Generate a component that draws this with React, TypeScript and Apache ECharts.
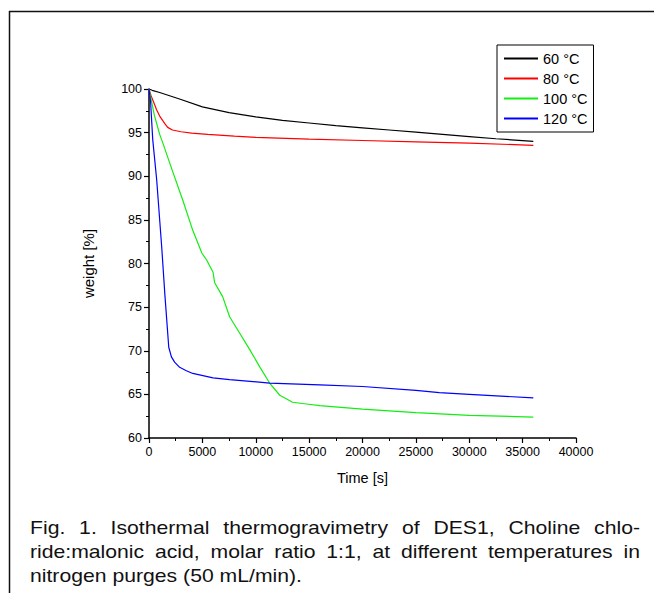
import React, { useEffect, useRef } from "react";
import * as echarts from "echarts";

const FONT = "'Liberation Sans', Arial, sans-serif";

const seriesNames = ["60 °C", "80 °C", "100 °C", "120 °C"];
const seriesColors = ["#000000", "#ff0000", "#11ee11", "#0000ff"];

const t60 = [0, 300, 1000, 2000, 3000, 5000, 7500, 10000, 12500, 15000, 17500, 20000, 22500, 25000, 27500, 30000, 32500, 36000];
const v60 = [100, 99.85, 99.6, 99.2, 98.8, 97.95, 97.3, 96.8, 96.4, 96.1, 95.8, 95.55, 95.3, 95.05, 94.8, 94.55, 94.3, 94.0];

const t80 = [0, 200, 400, 720, 1000, 1500, 1750, 2200, 3000, 4000, 5500, 8000, 10000, 15000, 20000, 25000, 30000, 36000];
const v80 = [100, 99.2, 98.6, 97.6, 96.9, 96.0, 95.6, 95.3, 95.1, 94.95, 94.8, 94.6, 94.45, 94.25, 94.1, 93.95, 93.8, 93.55];

const t100 = [0, 200, 500, 1000, 1300, 2000, 3150, 4100, 4950, 5400, 6000, 6150, 6900, 7550, 8500, 9450, 10400, 11300, 12250, 13450, 14750, 16000, 20000, 25000, 30000, 36000];
const v100 = [100, 98.8, 97.0, 94.8, 93.8, 91.3, 87.3, 83.8, 81.2, 80.4, 79.0, 77.8, 76.2, 73.9, 72.0, 70.1, 68.1, 66.3, 64.9, 64.1, 63.9, 63.7, 63.3, 62.9, 62.6, 62.4];

const t120 = [0, 150, 350, 720, 1190, 1500, 1850, 2100, 2400, 2870, 3500, 4100, 6000, 7550, 11300, 16000, 20000, 25000, 27200, 30000, 36000];
const v120 = [100, 98.5, 94.2, 89.6, 81.9, 76.2, 70.4, 69.3, 68.7, 68.1, 67.7, 67.4, 66.9, 66.7, 66.3, 66.1, 65.9, 65.45, 65.2, 65.0, 64.6];

const seriesTimes = [t60, t80, t100, t120];
const seriesValues = [v60, v80, v100, v120];

const xTicks = { min: 0, max: 40000, interval: 5000 };
const yTicks = { min: 60, max: 100, interval: 5 };

const captionLines = [
  "Fig. 1. Isothermal thermogravimetry of DES1, Choline chlo-",
  "ride:malonic acid, molar ratio 1:1, at different temperatures in",
  "nitrogen purges (50 mL/min).",
];

function buildCaption(): any[] {
  const fontSize = 18;
  const canvas = document.createElement("canvas");
  const ctx = canvas.getContext("2d")!;
  ctx.font = `${fontSize}px ${FONT}`;
  const left = 30;
  const right = 640;
  const natural3 = ctx.measureText(captionLines[2]).width;
  const scale = Math.min(1.4, Math.max(0.8, 272 / natural3));
  const spaceW = ctx.measureText(" ").width * scale;
  const ys = [528, 552, 576];
  const els: any[] = [];
  captionLines.forEach((line, i) => {
    const words = line.split(" ");
    const widths = words.map((w) => ctx.measureText(w).width * scale);
    const total = widths.reduce((a, b) => a + b, 0);
    const justify = i < captionLines.length - 1;
    const gap = justify ? (right - left - total) / (words.length - 1) : spaceW;
    let x = left;
    words.forEach((w, j) => {
      els.push({
        type: "text",
        x,
        y: ys[i],
        scaleX: scale,
        style: {
          text: w,
          fontSize,
          fontFamily: FONT,
          fill: "#111",
          textAlign: "left",
          textVerticalAlign: "middle",
          verticalAlign: "middle",
        },
      });
      x += widths[j] + gap;
    });
  });
  return els;
}

export default function App() {
  const ref = useRef<HTMLDivElement>(null);
  useEffect(() => {
    if (!ref.current) return;
    const chart = echarts.init(ref.current, undefined, { renderer: "svg" });
    const series = seriesNames.map((name, i) => ({
      name,
      type: "line",
      showSymbol: false,
      symbol: "none",
      data: seriesTimes[i].map((t, k) => [t, seriesValues[i][k]]),
      lineStyle: { color: seriesColors[i], width: 1.2 },
      itemStyle: { color: seriesColors[i] },
      z: 3 + i,
    }));
    const axisCommon = {
      axisLine: { show: true, lineStyle: { color: "#000", width: 1.5 } },
      axisTick: { show: true, inside: false, length: 5, lineStyle: { color: "#000", width: 1.2 } },
      minorTick: { show: true, splitNumber: 2, length: 3, lineStyle: { color: "#000", width: 1 } },
      splitLine: { show: false },
      axisLabel: {
        color: "#000",
        fontSize: 12.5,
        fontFamily: FONT,
        margin: 7,
        formatter: (v: number) => String(v),
      },
      nameTextStyle: { color: "#000", fontSize: 14.5, fontFamily: FONT },
    };
    chart.setOption({
      animation: false,
      backgroundColor: "#fff",
      grid: { left: 149, right: 78, top: 89, bottom: 155, containLabel: false },
      xAxis: {
        type: "value",
        min: xTicks.min,
        max: xTicks.max,
        interval: xTicks.interval,
        name: "Time [s]",
        nameLocation: "middle",
        nameGap: 32,
        ...axisCommon,
        axisLabel: { ...axisCommon.axisLabel, showMaxLabel: true },
      },
      yAxis: {
        type: "value",
        min: yTicks.min,
        max: yTicks.max,
        interval: yTicks.interval,
        name: "weight [%]",
        nameLocation: "middle",
        nameGap: 53,
        ...axisCommon,
        nameTextStyle: { color: "#000", fontSize: 15, fontFamily: FONT },
      },
      legend: {
        orient: "vertical",
        left: 497,
        top: 45,
        padding: [6, 6, 6, 7],
        itemGap: 5,
        itemWidth: 34,
        itemHeight: 2,
        icon: "rect",
        borderColor: "#000",
        borderWidth: 1,
        backgroundColor: "#fff",
        data: seriesNames,
        textStyle: { color: "#000", fontSize: 14.5, fontFamily: FONT },
      },
      graphic: [
        {
          type: "line",
          shape: { x1: 9, y1: 11.5, x2: 654, y2: 11.5 },
          style: { stroke: "#111", lineWidth: 1.5 },
        },
        {
          type: "line",
          shape: { x1: 9.5, y1: 11, x2: 9.5, y2: 593 },
          style: { stroke: "#111", lineWidth: 1.5 },
        },
        ...buildCaption(),
      ],
      series,
    });
    return () => chart.dispose();
  }, []);
  return (
    <div
      ref={ref}
      style={{ position: "fixed", left: 0, top: 0, width: 654, height: 593, background: "#fff" }}
    />
  );
}
